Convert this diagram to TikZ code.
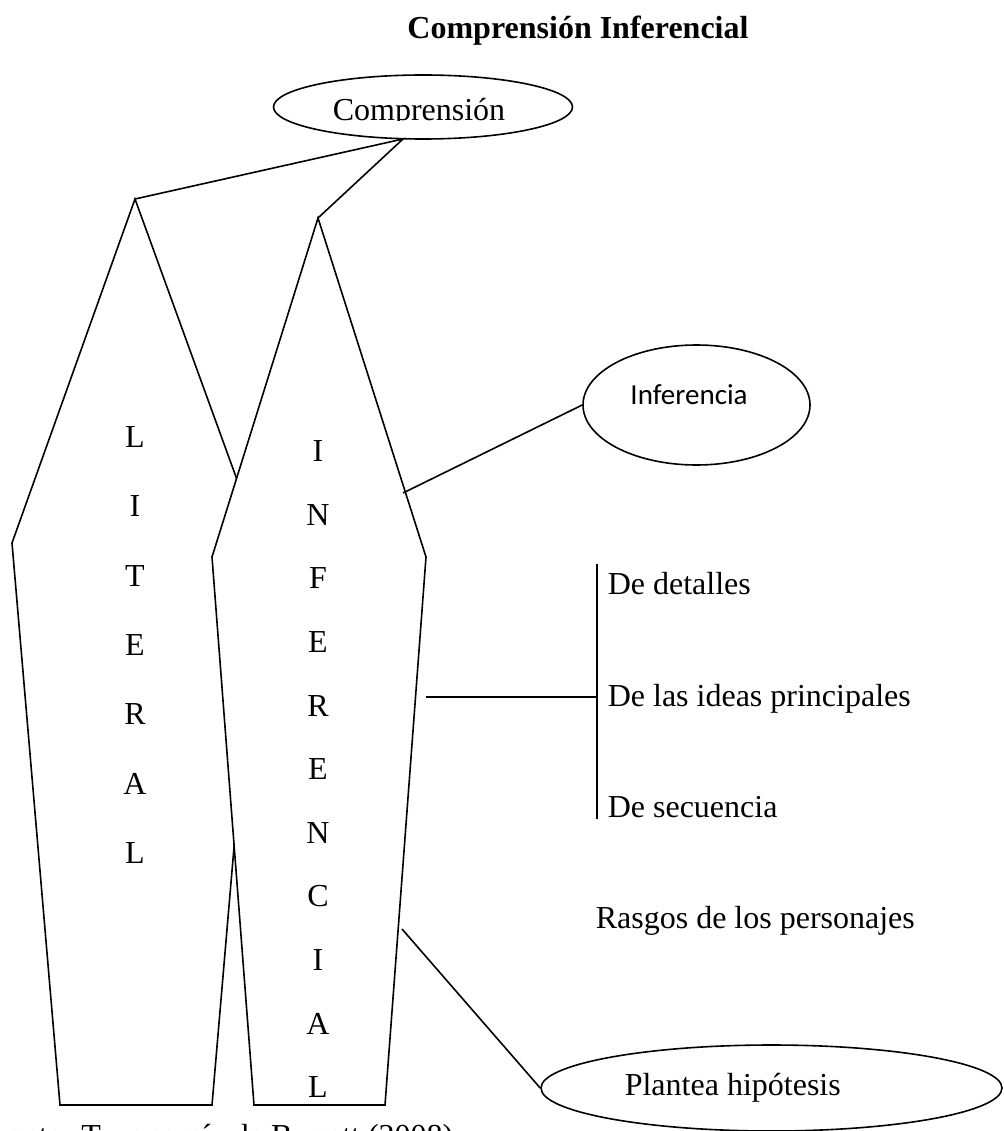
\documentclass[tikz,border=0pt]{standalone}
\usepackage{fontspec}
\setmainfont{Liberation Serif}
\newfontfamily\calibri{Carlito}
\usetikzlibrary{shapes.geometric}

\begin{document}
\begin{tikzpicture}
[x=1pt,y=-1pt,line width=1.6pt,every node/.style={font=\fontsize{32}{38}\selectfont,inner sep=0pt},
 oval/.style={draw,ellipse,inner sep=0pt}]
\useasboundingbox (0,0) rectangle (1003,1131);
\node[font=\fontsize{32}{38}\selectfont\bfseries,anchor=base] (title) at (578,39) {Comprensión Inferencial};
% the two columns
\draw[fill=white] (135,199) -- (260,543) -- (212,1105) -- (60,1105) -- (12,543) -- cycle;
\draw[fill=white] (318,218) -- (426,557) -- (385,1105) -- (254,1105) -- (212,557) -- cycle;
\foreach \ch [count=\i] in {L,I,T,E,R,A,L}
\node[anchor=base] (lit\i) at (135,447.6+69.3*\i-69.3) {\ch};
\foreach \ch [count=\i] in {I,N,F,E,R,E,N,C,I,A,L}
\node[anchor=base] (inf\i) at (318,461.6+63.6*\i-63.6) {\ch};
% ellipses
\node[oval,minimum width=299,minimum height=64] (comp) at (423,107) {};
\begin{scope}
\clip (273,80) rectangle (573,121);
\node[anchor=base] (compText) at (419,121) {Comprensión};
\end{scope}
\node[oval,minimum width=227,minimum height=120] (infe) at (696.5,405) {};
\node[font=\fontsize{29}{34}\selectfont\calibri] (infeText) at (689,395) {Inferencia};
\node[oval,minimum width=461,minimum height=86] (hip) at (771.5,1088) {};
\node[anchor=base west] (hipText) at (624,1095.6) {Plantea hipótesis};
% right labels
\node[anchor=base west] (det) at (607,594) {De detalles};
\node[anchor=base west] (ideas) at (607,706) {De las ideas principales};
\node[anchor=base west] (sec) at (607,817) {De secuencia};
\node[anchor=base west] (rasgos) at (595,928) {Rasgos de los personajes};
\node[anchor=base west] (fuente) at (-26,1146) {Fuente: Taxonomía de Barrett (2008)};
% connectors
\coordinate (litTop) at (135,199);
\coordinate (infTop) at (318,218);
\coordinate (compBot) at (403,139);
\coordinate (infEdge) at (403,493);
\coordinate (ideasEnd) at (426,697);
\coordinate (barMid) at (597,697);
\coordinate (barTop) at (597,564);
\coordinate (barBot) at (597,819);
\coordinate (hipEdge) at (402,929);
\draw (litTop) -- (compBot) -- (infTop);
\foreach \from/\to in {infEdge/infe.west,ideasEnd/barMid,barTop/barBot,hipEdge/hip.west}
\draw (\from) -- (\to);
\end{tikzpicture}
\end{document}
